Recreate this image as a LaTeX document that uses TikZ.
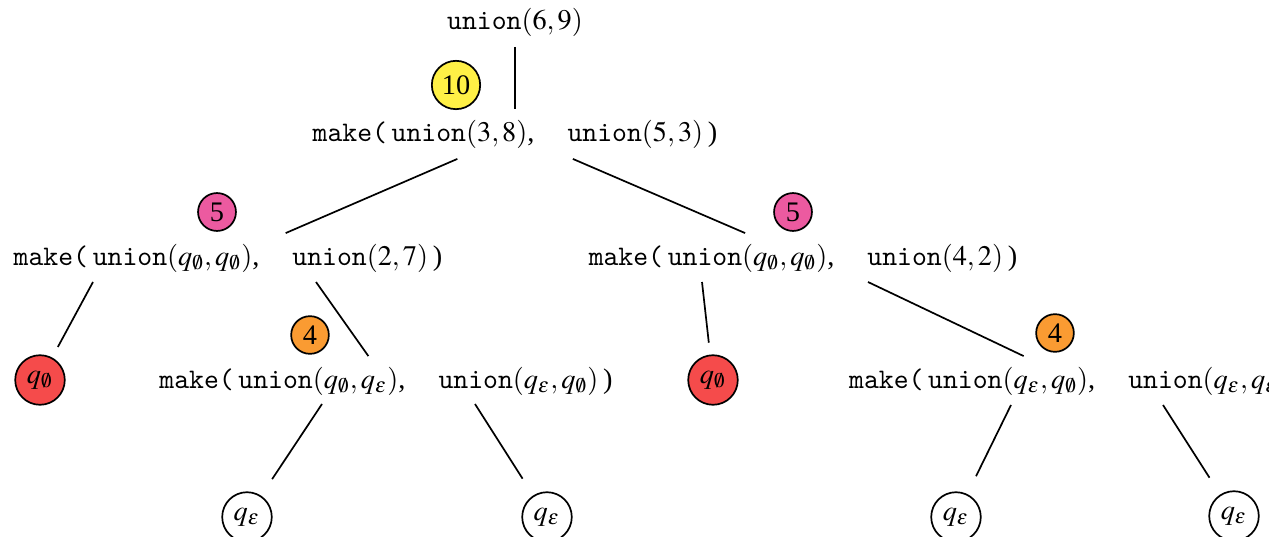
\documentclass[tikz,border=0pt]{standalone}
\usepackage{mathptmx}
\usepackage{fontspec}
\setmainfont{Liberation Serif}
\definecolor{costyellow}{RGB}{255,240,70}
\definecolor{costpink}{RGB}{236,90,160}
\definecolor{costorange}{RGB}{250,155,50}
\definecolor{deadred}{RGB}{245,75,75}
\newcommand{\un}{\texttt{union}}
\newcommand{\mk}{\texttt{make(}\,}
\newcommand{\gap}{,\quad\,}
\begin{document}
\begin{tikzpicture}[x=0.353pt, y=-0.353pt, line width=0.6pt,
  term/.style={inner sep=0pt, minimum height=17pt, text height=7pt, text depth=2pt},
  cost/.style={circle, draw, inner sep=1.8pt, fill=#1},
  qnull/.style={circle, draw, fill=deadred, inner sep=0pt, minimum size=17.5pt, outer sep=4.5pt},
  qeps/.style={circle, draw, inner sep=0pt, minimum size=17.5pt, outer sep=7.3pt}]
  \useasboundingbox (0,0) rectangle (1269,537);
  \clip (0,0) rectangle (1269,537);
  % terms
  \node[term] (root) at (515,22) {\un$(6,9)$};
  \node[term] (top) at (515,134) {\mk\un$(3,8)$\gap\un$(5,3)$\,)};
  \node[term] (midl) at (228,258) {\mk\un$(q_\emptyset,q_\emptyset)$\gap\un$(2,7)$\,)};
  \node[term] (midr) at (803,258) {\mk\un$(q_\emptyset,q_\emptyset)$\gap\un$(4,2)$\,)};
  \node[term] (lowl) at (386,381) {\mk\un$(q_\emptyset,q_\varepsilon)$\gap\un$(q_\varepsilon,q_\emptyset)$\,)};
  \node[term] (lowr) at (1076,381) {\mk\un$(q_\varepsilon,q_\emptyset)$\gap\un$(q_\varepsilon,q_\varepsilon)$\,)};
  % leaves
  \node[qnull] (nulla) at (40,380) {$q_\emptyset$};
  \node[qnull] (nullb) at (713,380) {$q_\emptyset$};
  \node[qeps] (epsa) at (247,517) {$q_\varepsilon$};
  \node[qeps] (epsb) at (547,517) {$q_\varepsilon$};
  \node[qeps] (epsc) at (956,517) {$q_\varepsilon$};
  \node[qeps] (epsd) at (1234,516) {$q_\varepsilon$};
  % costs
  \node[cost=costyellow] (c10) at (456,85) {10};
  \node[cost=costpink] (c5a) at (217,212) {5};
  \node[cost=costpink] (c5b) at (793,212) {5};
  \node[cost=costorange] (c4a) at (310,335) {4};
  \node[cost=costorange] (c4b) at (1055,333) {4};
  % edges
  \coordinate (midl-a) at (93,282);
  \coordinate (midl-b) at (316,282);
  \coordinate (midr-a) at (702,282);
  \coordinate (midr-b) at (868,282);
  \coordinate (lowl-a) at (322,404);
  \coordinate (lowl-b) at (475,404);
  \coordinate (lowr-a) at (1011,405);
  \coordinate (lowr-b) at (1163,405);
  \draw (root) -- (top);
  \draw (top) -- (midl);
  \draw (top) -- (midr);
  \draw (midl-a) -- (nulla);
  \draw (midl-b) -- (lowl);
  \draw (midr-a) -- (nullb);
  \draw (midr-b) -- (lowr);
  \draw (lowl-a) -- (epsa);
  \draw (lowl-b) -- (epsb);
  \draw (lowr-a) -- (epsc);
  \draw (lowr-b) -- (epsd);
\end{tikzpicture}
\end{document}
